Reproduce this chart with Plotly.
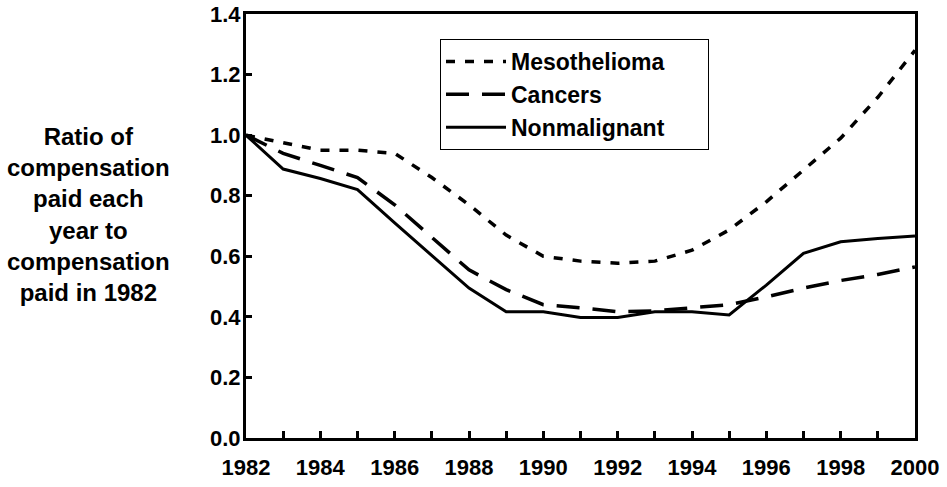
import plotly.graph_objects as go

years = list(range(1982, 2001))
meso = [1.00, 0.975, 0.95, 0.95, 0.94, 0.86, 0.77, 0.67, 0.60, 0.584, 0.577, 0.584, 0.62, 0.687, 0.78, 0.885, 0.99, 1.125, 1.28]
cancers = [1.00, 0.94, 0.90, 0.86, 0.77, 0.664, 0.555, 0.49, 0.44, 0.43, 0.417, 0.42, 0.43, 0.44, 0.466, 0.495, 0.52, 0.54, 0.565]
nonmal = [1.00, 0.888, 0.857, 0.82, 0.71, 0.604, 0.495, 0.417, 0.417, 0.398, 0.398, 0.417, 0.417, 0.406, 0.505, 0.61, 0.648, 0.659, 0.667]

x_ticks = list(range(1982, 2001, 2))
y_ticks = [0.0, 0.2, 0.4, 0.6, 0.8, 1.0, 1.2, 1.4]
y_labels = ["0.0", "0.2", "0.4", "0.6", "0.8", "1.0", "1.2", "1.4"]

FONT = "Liberation Sans, Arial, sans-serif"
PAD = "&nbsp;" * 6

fig = go.Figure()
fig.add_trace(go.Scatter(x=years, y=meso, mode="lines", name="<b>Mesothelioma</b>" + PAD,
                         line=dict(color="black", width=3.5, dash="9px,10px")))
fig.add_trace(go.Scatter(x=years, y=cancers, mode="lines", name="<b>Cancers</b>" + PAD,
                         line=dict(color="black", width=3.5, dash="23px,13px")))
fig.add_trace(go.Scatter(x=years, y=nonmal, mode="lines", name="<b>Nonmalignant</b>" + PAD,
                         line=dict(color="black", width=3)))

fig.update_layout(
    width=947, height=487,
    margin=dict(l=246, r=32, t=14, b=49, autoexpand=False),
    paper_bgcolor="white", plot_bgcolor="white",
    font=dict(family=FONT, color="black"),
    showlegend=True,
    legend=dict(
        x=(440 - 246) / 669, y=(438 - 39) / 424, xanchor="left", yanchor="top",
        bordercolor="black", borderwidth=1, bgcolor="white",
        font=dict(size=23, family=FONT, color="black"),
        itemwidth=60, tracegroupgap=0,
    ),
    xaxis=dict(
        range=[1982, 2000], tickmode="array", tickvals=x_ticks,
        ticktext=[f"<b>{v}</b>" for v in x_ticks],
        ticks="inside", ticklen=7, tickwidth=3, tickcolor="black",
        minor=dict(dtick=1, tick0=1982, ticks="inside", ticklen=7, tickwidth=3, tickcolor="black"),
        showline=True, linewidth=3, linecolor="black", mirror=True,
        showgrid=False, zeroline=False, automargin=False,
        tickfont=dict(size=22, family=FONT, color="black"),
        ticklabelstandoff=8, ticklabeloverflow="allow",
    ),
    yaxis=dict(
        range=[0, 1.4], tickmode="array", tickvals=y_ticks,
        ticktext=[f"<b>{t}</b>" for t in y_labels],
        ticks="inside", ticklen=6, tickwidth=3, tickcolor="black",
        showline=True, linewidth=3, linecolor="black", mirror=True,
        showgrid=False, zeroline=False, automargin=False,
        tickfont=dict(size=22, family=FONT, color="black"),
        ticklabelstandoff=-2, ticklabeloverflow="allow",
    ),
)

fig.add_annotation(
    text="<b>Ratio of<br>compensation<br>paid each<br>year to<br>compensation<br>paid in 1982</b>",
    xref="paper", yref="paper", x=(88 - 246) / 669, y=(438 - 214) / 424,
    xanchor="center", yanchor="middle", showarrow=False, align="center",
    font=dict(size=24, family=FONT, color="black"),
)

# remove the browser's default 8px body margin so the 947x487 figure fills the window exactly
fig.write_html("out.html", config={"displayModeBar": False},
               post_script="document.body.style.margin='0';")
